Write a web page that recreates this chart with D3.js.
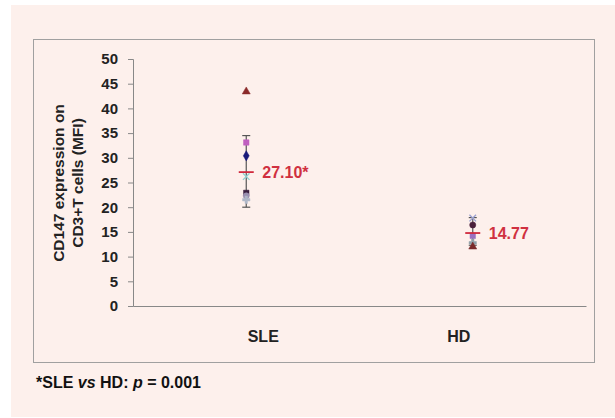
<!DOCTYPE html>
<html><head><meta charset="utf-8">
<script src="https://cdn.jsdelivr.net/npm/d3@7"></script>
<style>
html,body{margin:0;padding:0;background:#fff;}
svg{display:block;font-family:"Liberation Sans",Arial,sans-serif;}
</style></head>
<body>
<svg id="c" width="615" height="418"></svg>
<script>
const categories = ["SLE", "HD"];
const yTicks = [0,5,10,15,20,25,30,35,40,45,50];
const sleValues = [43.4, 33.1, 30.4, 26.2, 22.9, 22.3, 21.5];
const sleShapes = ["triangle","square","diamond","cross","square","circle","star"];
const sleColors = ["#8b2a2a","#c060c0","#1a1a7a","#8fd0d0","#3a2040","#9a90b0","#b0b8c8"];
const hdValues = [17.8, 16.4, 14.2, 12.8, 12.0];
const hdShapes = ["cross","circle","square","star","triangle"];
const hdColors = ["#9aa0d0","#4a1f3a","#9a70c0","#90a0a8","#7a2a2a"];
const means = [27.10, 14.77];
const meanLabels = ["27.10*", "14.77"];
const errLow = [20.0, 12.3];
const errHigh = [34.5, 17.9];

const svg = d3.select("#c");
svg.append("rect").attr("x",11).attr("y",5).attr("width",604).attr("height",412).attr("fill","#fdf0ec");
svg.append("rect").attr("x",33.5).attr("y",39.5).attr("width",561).attr("height",323)
  .attr("fill","none").attr("stroke","#a0a0a0").attr("stroke-width",1);

const x = d3.scaleBand().domain(categories).range([133,586]);
const y = d3.scaleLinear().domain([0,50]).range([306,59]);

const yAxis = svg.append("g").attr("transform","translate(133,0)")
  .call(d3.axisLeft(y).tickValues(yTicks).tickSize(5).tickPadding(10));
yAxis.select(".domain").attr("stroke","#888");
yAxis.selectAll(".tick line").attr("stroke","#888");
yAxis.selectAll("text").attr("font-size",15).attr("font-weight","bold").attr("fill","#222")
  .attr("font-family","Liberation Sans, Arial, sans-serif");

const xAxis = svg.append("g").attr("transform","translate(0,306)")
  .call(d3.axisBottom(x).tickSize(0).tickPadding(0));
xAxis.select(".domain").attr("stroke","#888");
xAxis.selectAll("text").remove();
const labelOffsets = [17, -14];
categories.forEach((c,i)=>{
  svg.append("text").attr("x", x(c)+x.bandwidth()/2+labelOffsets[i]).attr("y",342)
    .attr("text-anchor","middle").attr("font-size",16).attr("font-weight","bold").attr("fill","#222").text(c);
});

svg.append("text").attr("transform","translate(64,183) rotate(-90)").attr("text-anchor","middle")
  .attr("font-size",15.5).attr("font-weight","bold").attr("fill","#222").text("CD147 expression on");
svg.append("text").attr("transform","translate(83,183) rotate(-90)").attr("text-anchor","middle")
  .attr("font-size",15.5).attr("font-weight","bold").attr("fill","#222").text("CD3+T cells (MFI)");

const symMap = {triangle:d3.symbolTriangle, square:d3.symbolSquare, diamond:d3.symbolDiamond,
  cross:d3.symbolX, circle:d3.symbolCircle, star:d3.symbolCross};

function group(ci, vals, shapes, colors){
  const cx = x(categories[ci]) + x.bandwidth()/2;
  svg.append("line").attr("x1",cx).attr("x2",cx).attr("y1",y(errLow[ci])).attr("y2",y(errHigh[ci]))
    .attr("stroke","#555").attr("stroke-width",1.2);
  [errLow[ci], errHigh[ci]].forEach(v=>{
    svg.append("line").attr("x1",cx-4).attr("x2",cx+4).attr("y1",y(v)).attr("y2",y(v))
      .attr("stroke","#555").attr("stroke-width",1.2);
  });
  vals.forEach((v,i)=>{
    const sh = shapes[i];
    const isLine = sh==="cross";
    svg.append("path").attr("transform",`translate(${cx},${y(v)})`)
      .attr("d", d3.symbol().type(symMap[sh]).size(sh==="triangle"?28:30)())
      .attr("fill", isLine ? "none" : colors[i])
      .attr("stroke", colors[i]).attr("stroke-width", isLine?1.3:0.5);
  });
  svg.append("line").attr("x1",cx-7.5).attr("x2",cx+7.5).attr("y1",y(means[ci])).attr("y2",y(means[ci]))
    .attr("stroke","#d0283c").attr("stroke-width",1.8);
  svg.append("text").attr("x",cx+16).attr("y",y(means[ci])+6).attr("font-size",16).attr("font-weight","bold")
    .attr("fill","#d03040").text(meanLabels[ci]);
}
group(0, sleValues, sleShapes, sleColors);
group(1, hdValues, hdShapes, hdColors);

const foot = svg.append("text").attr("x",36).attr("y",388).attr("font-size",16).attr("font-weight","bold").attr("fill","#111");
foot.append("tspan").text("*SLE ");
foot.append("tspan").attr("font-style","italic").text("vs");
foot.append("tspan").text(" HD: ");
foot.append("tspan").attr("font-style","italic").text("p");
foot.append("tspan").text(" = 0.001");
</script>
</body></html>
